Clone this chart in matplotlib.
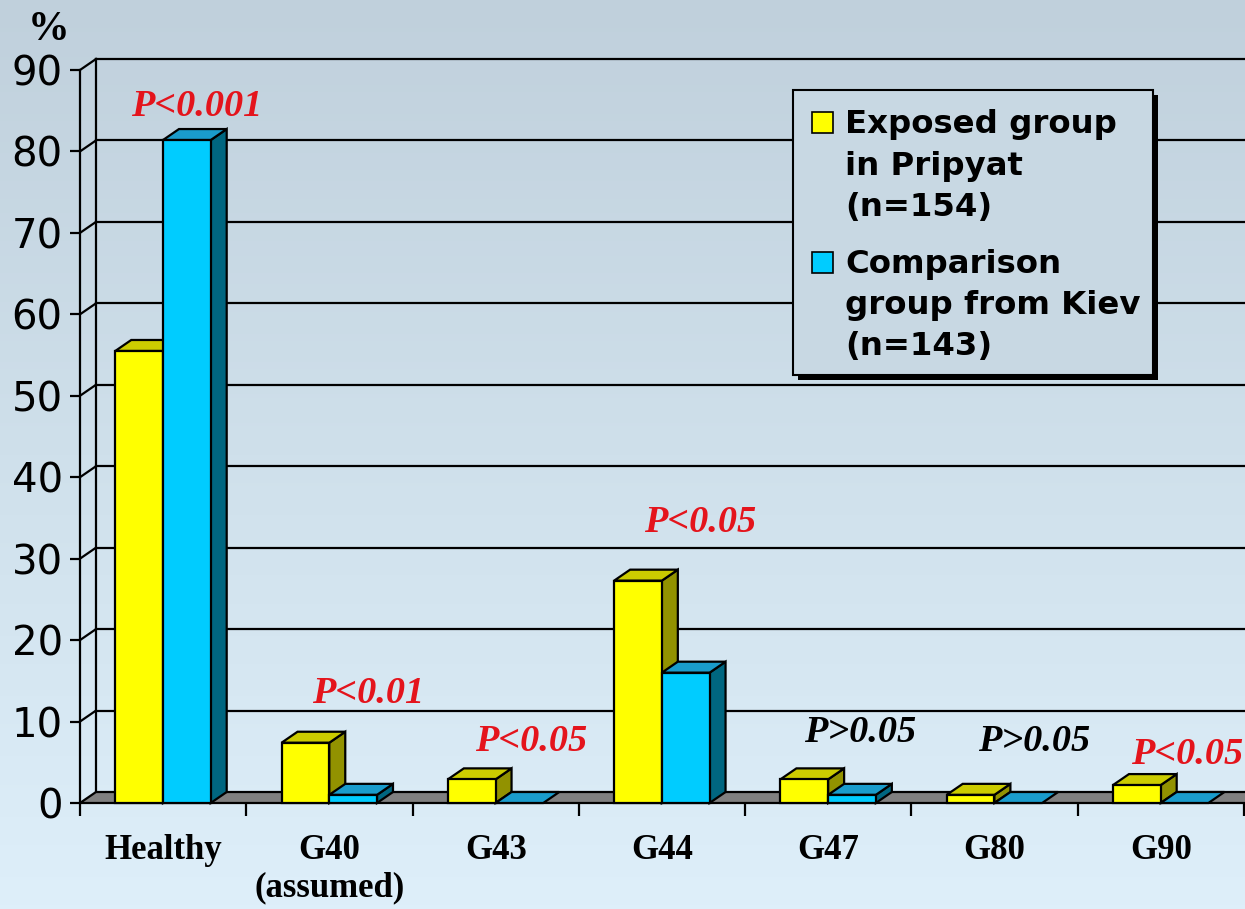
import numpy as np
import matplotlib
matplotlib.use('Agg')
import matplotlib.pyplot as plt
from matplotlib.patches import Polygon, Rectangle
from matplotlib.colors import LinearSegmentedColormap

# ---------------- data ----------------
categories = ['Healthy', 'G40\n(assumed)', 'G43', 'G44', 'G47', 'G80', 'G90']
exposed = [55.5, 7.4, 2.9, 27.3, 2.9, 1.0, 2.2]        # Exposed group in Pripyat (n=154), %
comparison = [81.4, 1.0, 0.0, 16.0, 1.0, 0.0, 0.0]     # Comparison group from Kiev (n=143), %
p_texts = ['P<0.001', 'P<0.01', 'P<0.05', 'P<0.05', 'P>0.05', 'P>0.05', 'P<0.05']
p_significant = [True, True, True, True, False, False, True]
y_ticks = [0, 10, 20, 30, 40, 50, 60, 70, 80, 90]
legend_labels = [['Exposed group', 'in Pripyat', '(n=154)'],
                 ['Comparison', 'group from Kiev', '(n=143)']]

# ---------------- layout / style ----------------
p_label_x = [0.70, 1.73, 2.71, 3.73, 4.69, 5.74, 6.66]
p_label_y = [85.5, 13.5, 7.6, 34.4, 8.6, 7.6, 6.0]

W, H = 1245, 909
fig = plt.figure(figsize=(W / 100, H / 100), dpi=100)

def pf(x, y):
    return x / W, 1 - y / H

# background gradient
bg = fig.add_axes([0, 0, 1, 1], zorder=0)
cmap = LinearSegmentedColormap.from_list('bg', ['#deeffa', '#cfe0eb', '#c0d0dc'])
grad = np.linspace(0, 1, 256).reshape(-1, 1)
bg.imshow(grad, extent=[0, 1, 0, 1], aspect='auto', cmap=cmap, origin='lower')
bg.set_axis_off()

# main axes (front plane)
ax_l, ax_r, ax_t, ax_b = 80, 1244, 70, 803
ax = fig.add_axes([ax_l / W, (H - ax_b) / H, (ax_r - ax_l) / W, (ax_b - ax_t) / H], zorder=1)
ax.patch.set_alpha(0)
n = len(categories)
ymax = 90
ax.set_xlim(0, n)
ax.set_ylim(0, ymax)

DX = 16 / ((ax_r - ax_l) / n)
DY = 11 / ((ax_b - ax_t) / ymax)
LW = 1.6

# walls / gridlines
for v in y_ticks[1:]:
    ax.plot([0, DX], [v, v + DY], color='black', lw=LW, zorder=1, clip_on=False)
    ax.plot([DX, n + 0.3], [v + DY, v + DY], color='black', lw=LW, zorder=1, clip_on=False)
ax.plot([DX, DX], [DY, ymax + DY], color='black', lw=LW, zorder=1, clip_on=False)

# floor
floor = Polygon([(0, 0), (n + 0.3, 0), (n + 0.3, DY), (DX, DY)], closed=True,
                facecolor='#808080', edgecolor='black', lw=LW, zorder=2, clip_on=False)
ax.add_patch(floor)

def bar3d(x0, w, h, cf, ct, cs, z):
    kw = dict(edgecolor='black', lw=LW, joinstyle='miter', clip_on=False)
    if h > 0:
        ax.add_patch(Polygon([(x0 + w, 0), (x0 + w + DX, DY), (x0 + w + DX, h + DY), (x0 + w, h)],
                             closed=True, facecolor=cs, zorder=z, **kw))
        ax.add_patch(Rectangle((x0, 0), w, h, facecolor=cf, zorder=z + 0.1, **kw))
    ax.add_patch(Polygon([(x0, h), (x0 + w, h), (x0 + w + DX, h + DY), (x0 + DX, h + DY)],
                         closed=True, facecolor=ct, zorder=z + 0.05, **kw))

bw = 0.287
start = 0.212
yellow = ('#ffff00', '#cccc00', '#929200')
cyan = ('#00ccff', '#1a9ccc', '#006680')
for i in range(n):
    bar3d(i + start, bw, exposed[i], *yellow, z=3 + i * 0.5)
    bar3d(i + start + bw, bw, comparison[i], *cyan, z=3.25 + i * 0.5)

# axes styling
for s in ['top', 'right', 'bottom']:
    ax.spines[s].set_visible(False)
ax.spines['left'].set_linewidth(LW)
ax.spines['left'].set_zorder(10)
ax.set_yticks(y_ticks)
ax.set_yticklabels([str(v) for v in y_ticks], fontsize=29, family='DejaVu Sans')
ax.tick_params(axis='y', length=7.5, width=LW, pad=5, direction='out')
ax.set_xticks([i + 0.5 for i in range(n)])
ax.set_xticklabels(categories, fontsize=25, fontweight='bold', family='Liberation Serif')
ax.tick_params(axis='x', which='major', length=0, pad=22)
ax.set_xticks(list(range(n + 1)), minor=True)
ax.tick_params(axis='x', which='minor', length=9, width=LW, direction='out')

# P labels
for i in range(n):
    ax.text(p_label_x[i], p_label_y[i], p_texts[i], ha='center', va='center',
            fontsize=27.5, fontweight='bold', fontstyle='italic', family='Liberation Serif',
            color='#e4141c' if p_significant[i] else 'black', zorder=20, clip_on=False)

# % label
fig.text(*pf(49, 30), '%', ha='center', va='center', fontsize=30, fontweight='bold',
         family='Liberation Serif', zorder=20)

# legend box
lx0, ly0, lx1, ly1 = 793, 90, 1153, 375
sh = 5
fig.patches.append(Rectangle(pf(lx0 + sh, ly1 + sh), (lx1 - lx0) / W, (ly1 - ly0) / H,
                             transform=fig.transFigure, facecolor='black', edgecolor='none', zorder=5))
fig.patches.append(Rectangle(pf(lx0, ly1), (lx1 - lx0) / W, (ly1 - ly0) / H,
                             transform=fig.transFigure, facecolor='#c8d8e3', edgecolor='black',
                             lw=1.5, zorder=6))
sq_tops = [112, 252]
baselines = [[133, 175, 216], [273, 314, 355]]
for k, col in enumerate([yellow[0], cyan[0]]):
    fig.patches.append(Rectangle(pf(812, sq_tops[k] + 21), 21 / W, 21 / H, transform=fig.transFigure,
                                 facecolor=col, edgecolor='black', lw=1.2, zorder=7))
    for line, by in zip(legend_labels[k], baselines[k]):
        fig.text(*pf(845, by), line, ha='left', va='baseline', fontsize=23.3, fontweight='bold',
                 family='DejaVu Sans', zorder=8)

fig.savefig('out.png', dpi=100)
